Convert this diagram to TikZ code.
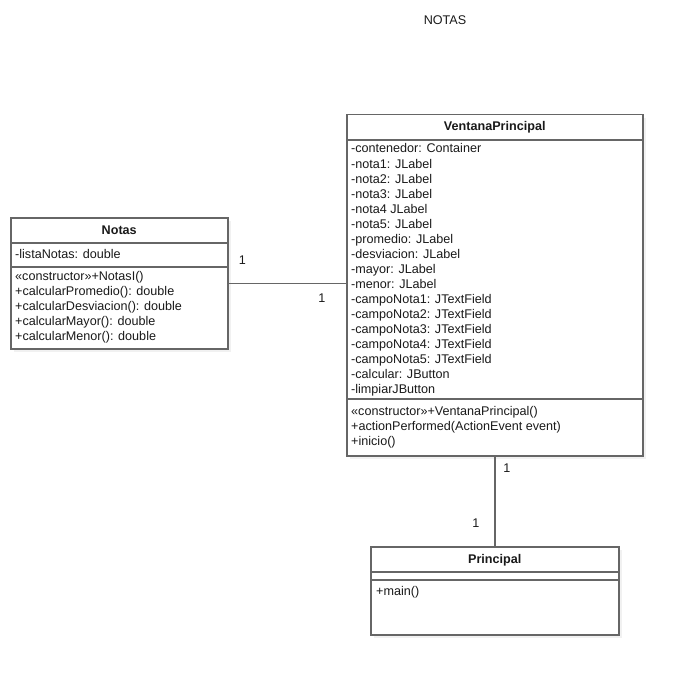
\documentclass[tikz,border=0pt]{standalone}
\usepackage{fontspec}
\setmainfont{Liberation Sans}
\usepackage{tikz}
\usetikzlibrary{calc, shadows}
\definecolor{UmlLine}{HTML}{666666}
\definecolor{UmlText}{HTML}{1A1A1A}

\tikzset{
  classbox/.style={draw=UmlLine, line width=1.5pt, fill=white, anchor=north west,
    inner sep=0pt, drop shadow={shadow xshift=3pt, shadow yshift=-3pt, fill=black!10}},
  sepline/.style={draw=UmlLine, line width=1.5pt},
  classname/.style={anchor=base, inner sep=0pt, text=UmlText, font=\fontsize{12.6}{15}\selectfont\bfseries},
  member/.style={anchor=base west, inner sep=0pt, text=UmlText, font=\fontsize{12.6}{15}\selectfont},
  assoc/.style={draw=UmlLine, line width=1.5pt},
  mult/.style={inner sep=0pt, text=UmlText, font=\fontsize{12.6}{15}\selectfont}
}

\begin{document}
\begin{tikzpicture}[x=1pt, y=-1pt]
  \useasboundingbox[fill=white] (0,0) rectangle (683,674);

  \node[mult] (title) at (445,20) {NOTAS};

  \node[classbox, minimum width=217pt, minimum height=131pt] (notas) at (10,217) {};
  \node[classname] at ($(notas.north)+(0,17)$) {Notas};
  \draw[sepline] ($(notas.north west)+(0,26)$) -- ($(notas.north east)+(0,26)$);
  \draw[sepline] ($(notas.north west)+(0,50)$) -- ($(notas.north east)+(0,50)$);
  \node[member] at ($(notas.north west)+(5,41)$) {-listaNotas: double};
  \foreach \m [count=\i from 0] in {«constructor»+NotasI(), +calcularPromedio(): double,
      +calcularDesviacion(): double, +calcularMayor(): double, +calcularMenor(): double}
    \node[member] at ($(notas.north west)+(5,63+15*\i)$) {\m};

  \node[classbox, minimum width=296pt, minimum height=341pt] (ventana) at (346,114) {};
  \node[classname] at ($(ventana.north)+(0,17)$) {VentanaPrincipal};
  \draw[sepline] ($(ventana.north west)+(0,26)$) -- ($(ventana.north east)+(0,26)$);
  \draw[sepline] ($(ventana.north west)+(0,285)$) -- ($(ventana.north east)+(0,285)$);
  \foreach \m [count=\i from 0] in {-contenedor: Container, -nota1: JLabel, -nota2: JLabel,
      -nota3: JLabel, -nota4 JLabel, -nota5: JLabel, -promedio: JLabel, -desviacion: JLabel,
      -mayor: JLabel, -menor: JLabel, -campoNota1: JTextField, -campoNota2: JTextField,
      -campoNota3: JTextField, -campoNota4: JTextField, -campoNota5: JTextField,
      -calcular: JButton, -limpiarJButton}
    \node[member] at ($(ventana.north west)+(5,39+15*\i)$) {\m};
  \foreach \m [count=\i from 0] in {«constructor»+VentanaPrincipal(),
      +actionPerformed(ActionEvent event), +inicio()}
    \node[member] at ($(ventana.north west)+(5,301+15*\i)$) {\m};

  \node[classbox, minimum width=248pt, minimum height=88pt] (principal) at (370,546) {};
  \node[classname] at ($(principal.north)+(0,17)$) {Principal};
  \draw[sepline] ($(principal.north west)+(0,26)$) -- ($(principal.north east)+(0,26)$);
  \draw[sepline] ($(principal.north west)+(0,34)$) -- ($(principal.north east)+(0,34)$);
  \node[member] at ($(principal.north west)+(6,49)$) {+main()};

  \draw[assoc] (notas.east) -- (notas.east -| ventana.west);
  \node[mult] at ($(notas.east)+(14,-23)$) {1};
  \node[mult] at ($(notas.east -| ventana.west)+(-24,15)$) {1};

  \draw[assoc] (ventana.south) -- (principal.north);
  \node[mult] at ($(ventana.south)+(12,12)$) {1};
  \node[mult] at ($(principal.north)+(-19,-23)$) {1};
\end{tikzpicture}
\end{document}
